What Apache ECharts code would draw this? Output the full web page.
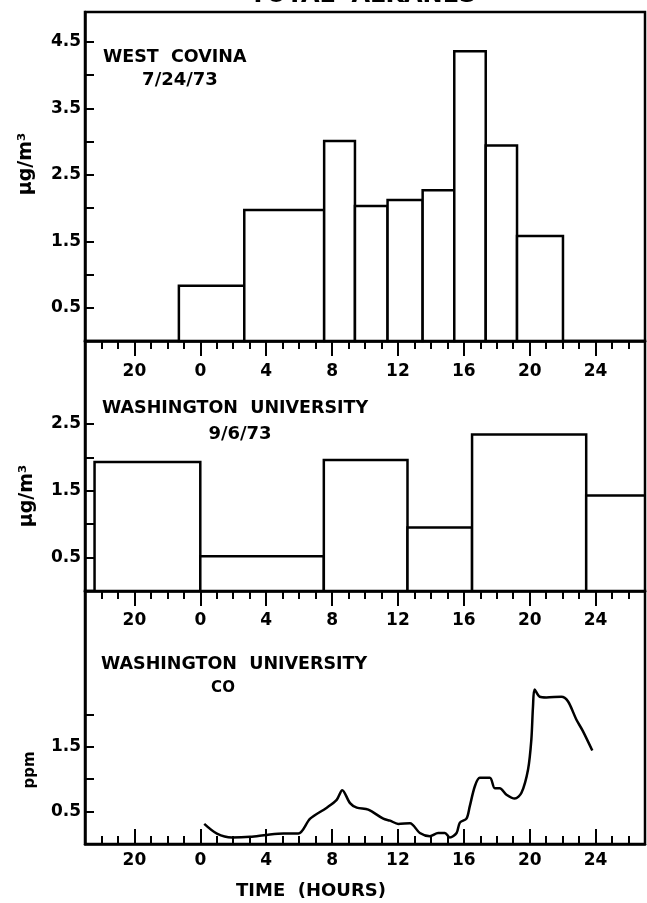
<!DOCTYPE html>
<html>
<head>
<meta charset="utf-8">
<script src="https://cdn.jsdelivr.net/npm/echarts@6/dist/echarts.min.js"></script>
<style>
  html, body { margin: 0; padding: 0; background: #fff; }
  #chart { width: 647px; height: 903px; }
</style>
</head>
<body>
<div id="chart"></div>
<script>
// hours on the x axis, negative = previous day (shown as 24 + h)
const hourLabels = [-4, 0, 4, 8, 12, 16, 20, 24];
const hourTicks = [-6, -5, -4, -3, -2, -1, 0, 1, 2, 3, 4, 5, 6, 7, 8, 9, 10, 11, 12, 13,
    14, 15, 16, 17, 18, 19, 20, 21, 22, 23, 24, 25, 26];

// West Covina 7/24/73, bar edges (hours) and total alkanes (ug/m3)
const westCovinaEdges = [-1.3, 2.67, 7.52, 9.39, 11.37, 13.5, 15.42, 17.33, 19.23, 22.02];
const westCovinaValues = [0.83, 1.97, 3.01, 2.03, 2.12, 2.27, 4.36, 2.94, 1.58];

// Washington University 9/6/73
const washUEdges = [-6.42, 0, 7.5, 12.58, 16.5, 23.43, 27];
const washUValues = [1.93, 0.52, 1.96, 0.95, 2.34, 1.43];

// Washington University CO trace (ppm)
const coHours = [0.24, 1.01, 1.92, 3.03, 4.04, 5.05, 5.96, 6.67, 7.68, 8.28, 8.62, 9.09, 9.5,
    10.2, 11.11, 11.52, 12.02, 12.73, 13.33, 13.94, 14.44, 14.85, 15.15, 15.56, 15.76, 16.16,
    16.36, 16.67, 16.97, 17.58, 17.88, 18.18, 18.59, 19.09, 19.5, 19.9, 20.1, 20.2, 20.3,
    20.61, 21.01, 21.92, 22.32, 22.83, 23.23, 23.8];
const coPpm = [0.31, 0.16, 0.1, 0.11, 0.14, 0.16, 0.16, 0.39, 0.56, 0.68, 0.83, 0.63, 0.56,
    0.53, 0.39, 0.36, 0.31, 0.32, 0.17, 0.12, 0.17, 0.17, 0.1, 0.17, 0.33, 0.39,
    0.58, 0.89, 1.02, 1.02, 0.86, 0.86, 0.76, 0.7, 0.79, 1.15, 1.61, 2.12, 2.38,
    2.27, 2.26, 2.27, 2.2, 1.92, 1.74, 1.44];

const yLabels1 = [0.5, 1.5, 2.5, 3.5, 4.5];
const yTicks1 = [0.5, 1, 1.5, 2, 2.5, 3, 3.5, 4, 4.5];
const yLabels2 = [0.5, 1.5, 2.5];
const yTicks2 = [0.5, 1, 1.5, 2, 2.5];
const yLabels3 = [0.5, 1.5];
const yTicks3 = [0.5, 1, 1.5, 2];

const FONT = 'DejaVu Sans';
const ink = '#000';

function barData(edges, values) {
    return values.map((v, i) => [edges[i], edges[i + 1], v]);
}

function renderBox(params, api) {
    const p0 = api.coord([api.value(0), 0]);
    const p1 = api.coord([api.value(1), api.value(2)]);
    return {
        type: 'rect',
        shape: {x: p0[0], y: p1[1], width: p1[0] - p0[0], height: p0[1] - p1[1]},
        style: {fill: '#fff', stroke: ink, lineWidth: 2.5}
    };
}

function majorAxis(grid, inside, margin) {
    return {
        type: 'value', gridIndex: grid, min: -7, max: 27, position: 'bottom',
        axisLine: {show: true, onZero: false, lineStyle: {color: ink, width: 2.5}},
        axisTick: {show: true, inside: inside, length: 15, customValues: hourLabels,
            lineStyle: {color: ink, width: 2}},
        axisLabel: {show: true, customValues: hourLabels, margin: margin,
            formatter: v => (v < 0 ? v + 24 : v),
            color: ink, fontFamily: FONT, fontWeight: 'bold', fontSize: 17},
        splitLine: {show: false}
    };
}

function minorAxis(grid, inside) {
    return {
        type: 'value', gridIndex: grid, min: -7, max: 27, position: 'bottom',
        axisLine: {show: false, onZero: false},
        axisTick: {show: true, inside: inside, length: 8, customValues: hourTicks,
            lineStyle: {color: ink, width: 2}},
        axisLabel: {show: false},
        splitLine: {show: false}
    };
}

function valueAxis(grid, max, labels, ticks) {
    return {
        type: 'value', gridIndex: grid, min: 0, max: max,
        axisLine: {show: true, onZero: false, lineStyle: {color: ink, width: 2.5}},
        axisTick: {show: true, inside: true, length: 9, customValues: ticks,
            lineStyle: {color: ink, width: 2}},
        axisLabel: {show: true, customValues: labels, margin: 4,
            formatter: v => v.toFixed(1), padding: [0, 0, 8, 0],
            color: ink, fontFamily: FONT, fontWeight: 'bold', fontSize: 17},
        splitLine: {show: false}
    };
}

function label(text, x, y, size, align, rot) {
    return {
        type: 'text', x: x, y: y, rotation: rot || 0,
        style: {text: text, x: 0, y: 0, fill: ink, align: align || 'left', verticalAlign: 'middle',
            font: 'bold ' + size + 'px "' + FONT + '"'}
    };
}

const chart = echarts.init(document.getElementById('chart'));
chart.setOption({
    backgroundColor: '#fff',
    animation: false,
    grid: [
        {left: 85, width: 560, top: 12, height: 329, show: true, borderColor: ink, borderWidth: 2.5},
        {left: 85, width: 560, top: 341, height: 250, show: true, borderColor: ink, borderWidth: 2.5},
        {left: 85, width: 560, top: 591, height: 253, show: true, borderColor: ink, borderWidth: 2.5}
    ],
    xAxis: [
        majorAxis(0, false, 22), minorAxis(0, false),
        majorAxis(1, false, 21), minorAxis(1, false),
        majorAxis(2, true, 8), minorAxis(2, true)
    ],
    yAxis: [
        valueAxis(0, 4.95, yLabels1, yTicks1),
        valueAxis(1, 3.74, yLabels2, yTicks2),
        valueAxis(2, 3.9, yLabels3, yTicks3)
    ],
    graphic: [
        label('TOTAL  ALKANES', 363, -4, 24, 'center'),
        label('WEST  COVINA', 103, 57, 17.5),
        label('7/24/73', 180, 80, 18, 'center'),
        label('WASHINGTON  UNIVERSITY', 102, 408, 17.5),
        label('9/6/73', 240, 434, 18, 'center'),
        label('WASHINGTON  UNIVERSITY', 101, 664, 17.5),
        label('CO', 223, 688, 15, 'center'),
        label('TIME  (HOURS)', 311, 891, 18, 'center'),
        label('μg/m³', 26, 164, 19, 'center', Math.PI / 2),
        label('μg/m³', 27, 496, 19, 'center', Math.PI / 2),
        label('ppm', 30, 770, 15, 'center', Math.PI / 2)
    ],
    series: [
        {
            name: 'West Covina', type: 'custom', xAxisIndex: 0, yAxisIndex: 0,
            renderItem: renderBox, encode: {x: [0, 1], y: 2},
            data: barData(westCovinaEdges, westCovinaValues)
        },
        {
            name: 'Washington University', type: 'custom', xAxisIndex: 2, yAxisIndex: 1,
            renderItem: renderBox, encode: {x: [0, 1], y: 2}, clip: true,
            data: barData(washUEdges, washUValues)
        },
        {
            name: 'CO', type: 'line', xAxisIndex: 4, yAxisIndex: 2,
            data: coHours.map((h, i) => [h, coPpm[i]]),
            smooth: 0.3, symbol: 'none',
            lineStyle: {color: ink, width: 2.5}
        }
    ]
});
</script>
</body>
</html>
